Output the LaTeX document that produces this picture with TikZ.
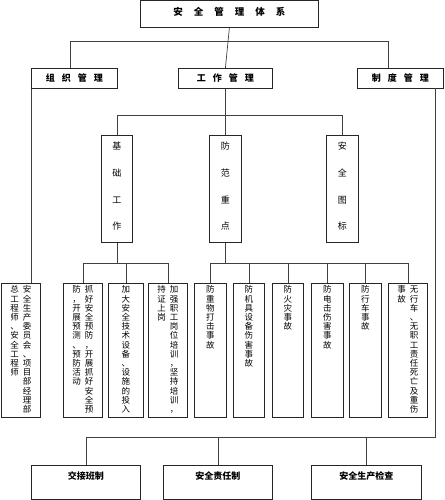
\documentclass[tikz,border=0pt]{standalone}
\usepackage{fontspec}
\setmainfont{Noto Sans CJK SC}
\def\vtloop#1{\ifx\relax#1\else\hbox to 1em{\hss#1\hss}\expandafter\vtloop\fi}
\newcommand\vcol[2]{\vtop{\baselineskip=#1\relax\lineskiplimit=-100pt\relax\vtloop#2\relax}}
\tikzset{
  bx/.style={draw=black!85, line width=0.8pt, inner sep=0pt, anchor=north west},
  ln/.style={draw=black!75, line width=0.7pt},
  titlebox/.style={bx, font=\fontsize{9.5}{11}\selectfont\bfseries, text height=15pt, text depth=11.5pt},
  midbox/.style={bx, font=\fontsize{9}{10}\selectfont\bfseries, minimum height=20pt},
  colbox/.style={bx, font=\fontsize{9}{10}\selectfont, text height=14.4pt, text depth=92.6pt},
  leafbox/.style={bx, font=\fontsize{8.5}{9.2}\selectfont, text height=9.5pt, text depth=124.5pt},
  basebox/.style={bx, font=\fontsize{9}{10}\selectfont\bfseries, text height=14.4pt, text depth=19.6pt},
}
\begin{document}
\begin{tikzpicture}[x=1pt,y=-1pt]
\useasboundingbox (0,0) rectangle (444,500);
% top
\node[titlebox, minimum width=178pt] (top) at (140,0.5)
  {安\hspace{11pt}全\hspace{11pt}管\hspace{11pt}理\hspace{11pt}体\hspace{11pt}系};
% level 2
\node[midbox, minimum width=86pt] (zz) at (31,68) {组\hspace{7pt}织\hspace{7pt}管\hspace{7pt}理};
\node[midbox, minimum width=94pt] (gz) at (178,68) {工\hspace{7pt}作\hspace{7pt}管\hspace{7pt}理};
\node[midbox, minimum width=86pt] (zd) at (357,68) {制\hspace{7pt}度\hspace{7pt}管\hspace{7pt}理};
% level 3
\node[colbox, minimum width=31pt] (jc) at (101,135) {\vcol{26.7pt}{基础工作}};
\node[colbox, minimum width=32pt] (ff) at (209,135) {\vcol{26.7pt}{防范重点}};
\node[colbox, minimum width=32pt] (aq) at (326,135) {\vcol{26.7pt}{安全图标}};
% level 4
\node[leafbox, minimum width=39pt] (A) at (1,283)
  {\vcol{9.2pt}{总工程师、安全工程师}\hspace{4pt}\vcol{9.2pt}{安全生产委员会、项目部经理部}};
\node[leafbox, minimum width=39pt] (B) at (63,283)
  {\vcol{9.2pt}{防，开展预测、预防活动}\hspace{4pt}\vcol{9.2pt}{抓好安全预防，开展抓好安全预}};
\node[leafbox, minimum width=35pt] (C) at (108,283)
  {\vcol{9.2pt}{加大安全技术设备、设施的投入}};
\node[leafbox, minimum width=39pt] (D) at (148,283)
  {\vcol{9.2pt}{持证上岗}\hspace{4pt}\vcol{9.2pt}{加强职工岗位培训，坚持培训，}};
\node[leafbox, minimum width=32pt] (E) at (194,283) {\vcol{9.2pt}{防重物打击事故}};
\node[leafbox, minimum width=31pt] (F) at (233,283) {\vcol{9.2pt}{防机具设备伤害事故}};
\node[leafbox, minimum width=31pt] (G) at (272,283) {\vcol{9.2pt}{防火灾事故}};
\node[leafbox, minimum width=32pt] (H) at (311,283) {\vcol{9.2pt}{防电击伤害事故}};
\node[leafbox, minimum width=32pt] (I) at (349,283) {\vcol{9.2pt}{防行车事故}};
\node[leafbox, minimum width=39pt] (J) at (388,283)
  {\vcol{9.2pt}{事故}\hspace{4pt}\vcol{9.2pt}{无行车、无职工责任死亡及重伤}};
% bottom
\node[basebox, minimum width=109pt] (jj) at (31,465) {交接班制};
\node[basebox, minimum width=109pt] (zr) at (163,465) {安全责任制};
\node[basebox, minimum width=110pt] (jc2) at (311,465) {安全生产检查};
% connectors: top level
\coordinate (t1) at (70,41);
\coordinate (t3) at (388,41);
\draw[ln] (top.south) -- (gz.north);
\draw[ln] (t1 |- zz.north) -- (t1) -- (t3) -- (t3 |- zd.north);
% organisation
\draw[ln] (zz.south west) -- (zz.south west |- A.north);
% work management
\coordinate (w1) at (0,115);
\draw[ln] (gz.south) -- (ff.north);
\draw[ln] (jc.north) |- (aq.north |- w1) -- (aq.north);
% basics
\coordinate (bl) at (0,263);
\draw[ln] (jc.south) -- (jc.south |- bl);
\draw[ln] (B.north) |- (D.north |- bl) -- (D.north);
\draw[ln] (C.north) -- (C.north |- bl);
% prevention
\draw[ln] (ff.south) -- (ff.south |- bl);
\draw[ln] (E.north) |- (J.north |- bl) -- (J.north);
\draw[ln] (F.north) -- (F.north |- bl);
\draw[ln] (G.north) -- (G.north |- bl);
\draw[ln] (H.north) -- (H.north |- bl);
\draw[ln] (I.north) -- (I.north |- bl);
% system management
\coordinate (r0) at (435,88);
\coordinate (rb) at (435,437);
\draw[ln] (r0) -- (rb) -- (jj.north |- rb) -- (jj.north);
\draw[ln] (zr.north) -- (zr.north |- rb);
\draw[ln] (jc2.north) -- (jc2.north |- rb);
\end{tikzpicture}
\end{document}
